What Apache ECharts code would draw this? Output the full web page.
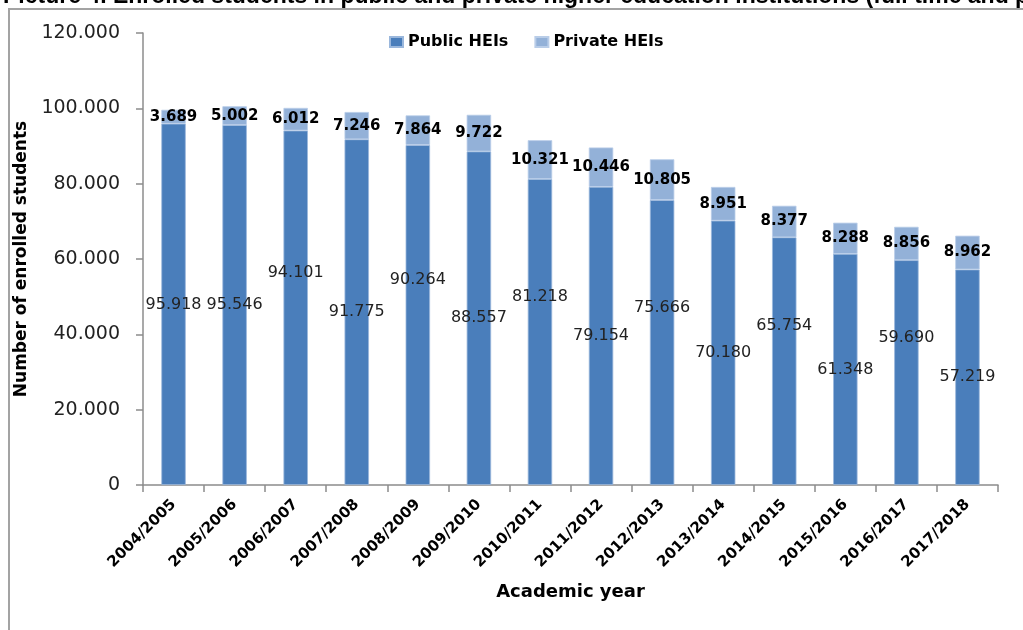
<!DOCTYPE html>
<html>
<head>
<meta charset="utf-8">
<title>Enrolled students in public and private HEIs</title>
<script src="https://cdn.jsdelivr.net/npm/echarts@6/dist/echarts.min.js"></script>
<style>
  html, body { margin: 0; padding: 0; background: #fff; }
  #chart { width: 1023px; height: 630px; }
</style>
</head>
<body>
<div id="chart"></div>
<script>
// Academic years on the category axis
const academicYears = [
  '2004/2005', '2005/2006', '2006/2007', '2007/2008', '2008/2009', '2009/2010', '2010/2011',
  '2011/2012', '2012/2013', '2013/2014', '2014/2015', '2015/2016', '2016/2017', '2017/2018'
];

// Enrolled students, public higher education institutions
const publicHEIs = [95918, 95546, 94101, 91775, 90264, 88557, 81218, 79154, 75666, 70180, 65754, 61348, 59690, 57219];

// Enrolled students, private higher education institutions
const privateHEIs = [3689, 5002, 6012, 7246, 7864, 9722, 10321, 10446, 10805, 8951, 8377, 8288, 8856, 8962];

// Value axis ticks
const yTicks = { min: 0, max: 120000, interval: 20000 };

// Caption line above the chart frame
const captionText = 'Picture 4. Enrolled students in public and private higher education institutions (full time and part time)';

// Dot as thousands separator
function fmt(v) {
  return String(Math.round(v)).replace(/\B(?=(\d{3})+(?!\d))/g, '.');
}

const FONT = '"DejaVu Sans", Verdana, sans-serif';

const chart = echarts.init(document.getElementById('chart'), null, { renderer: 'canvas' });

// Public labels sit mid-bar; every other one from the third bar is lifted to avoid crowding
const publicData = publicHEIs.map(function (v, i) {
  const lifted = i >= 2 && i % 2 === 0;
  return lifted ? { value: v, label: { offset: [0, -35] } } : { value: v };
});

const option = {
  animation: false,
  backgroundColor: '#ffffff',
  textStyle: { fontFamily: FONT },
  legend: {
    left: 389,
    top: 34,
    padding: 0,
    itemWidth: 13,
    itemHeight: 10,
    itemGap: 26,
    icon: 'rect',
    textStyle: { fontFamily: FONT, fontWeight: 'bold', fontSize: 16, color: '#000' },
    data: ['Public HEIs', 'Private HEIs']
  },
  grid: { left: 143, right: 25, top: 33, bottom: 145, containLabel: false },
  xAxis: {
    type: 'category',
    data: academicYears,
    name: 'Academic year',
    nameLocation: 'middle',
    nameGap: 98,
    nameTextStyle: { fontFamily: FONT, fontWeight: 'bold', fontSize: 18, color: '#000' },
    axisLine: { lineStyle: { color: '#8c8c8c', width: 1.5 } },
    axisTick: { show: true, length: 7, alignWithLabel: false, lineStyle: { color: '#8c8c8c', width: 1.5 } },
    axisLabel: {
      interval: 0, rotate: 45, margin: 17,
      fontFamily: FONT, fontWeight: 'bold', fontSize: 15, color: '#000'
    }
  },
  yAxis: {
    type: 'value',
    min: yTicks.min, max: yTicks.max, interval: yTicks.interval,
    name: 'Number of enrolled students',
    nameLocation: 'middle',
    nameGap: 101,
    nameTextStyle: { fontFamily: FONT, fontWeight: 'bold', fontSize: 17, color: '#000' },
    axisLine: { show: true, lineStyle: { color: '#8c8c8c', width: 1.5 } },
    axisTick: { show: true, length: 7, lineStyle: { color: '#8c8c8c', width: 1.5 } },
    splitLine: { show: false },
    axisLabel: {
      margin: 23,
      fontFamily: FONT, fontSize: 19, color: '#222',
      formatter: function (v) { return fmt(v); }
    }
  },
  series: [
    {
      name: 'Public HEIs',
      type: 'bar',
      stack: 'total',
      barWidth: '40%',
      data: publicData,
      itemStyle: { color: '#4a7ebb', borderColor: '#9ab7dc', borderWidth: 0.8 },
      label: {
        show: true, position: 'inside',
        fontFamily: FONT, fontSize: 16, color: '#222',
        formatter: function (p) { return fmt(p.value); }
      }
    },
    {
      name: 'Private HEIs',
      type: 'bar',
      stack: 'total',
      barWidth: '40%',
      data: privateHEIs,
      itemStyle: { color: '#93b1d8', borderColor: '#b9cde8', borderWidth: 0.8 },
      label: {
        show: true, position: 'inside',
        fontFamily: FONT, fontWeight: 'bold', fontSize: 15, color: '#000',
        formatter: function (p) { return fmt(p.value); }
      }
    }
  ],
  graphic: [
    {
      type: 'text',
      x: 3, y: -3,
      style: {
        text: captionText,
        fontFamily: '"Liberation Sans", Arial, sans-serif',
        fontSize: 23,
        fontWeight: 'bold',
        fill: '#000',
        textAlign: 'left',
        textVerticalAlign: 'middle'
      }
    },
    {
      type: 'polyline',
      shape: { points: [[9, 630], [9, 9], [1023, 9]] },
      style: { stroke: '#a3a3a3', lineWidth: 2, fill: null }
    }
  ]
};

chart.setOption(option);
</script>
</body>
</html>
